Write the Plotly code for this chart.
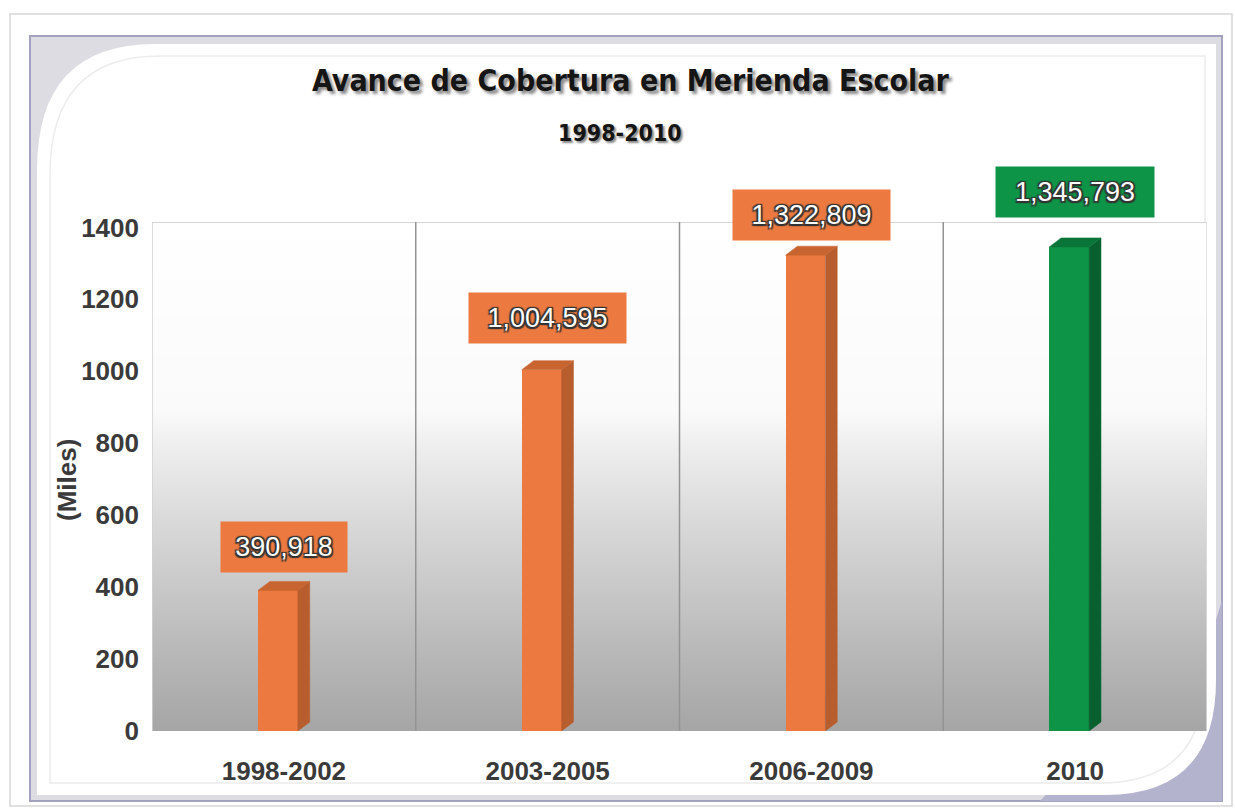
import numpy as np
import plotly.graph_objects as go

# ---- data -------------------------------------------------------------
periods = ["1998-2002", "2003-2005", "2006-2009", "2010"]
beneficiaries = [390918, 1004595, 1322809, 1345793]          # children served
values_k = [v / 1000 for v in beneficiaries]                   # plotted in thousands
y_ticks = [0, 200, 400, 600, 800, 1000, 1200, 1400]

# ---- styling ----------------------------------------------------------
front_colors = ["#ec7a40", "#ec7a40", "#ec7a40", "#0d9447"]
side_colors = ["#b85d2e", "#b85d2e", "#b85d2e", "#07602d"]
top_colors = ["#c8642f", "#c8642f", "#c8642f", "#0a7538"]
label_shift = [43, 52, 40, 55]       # px above the bar top
label_width = [126, 157, 157, 158]

W, H = 1235, 812
L, R, T, B = 152, 1207, 222, 731     # plot area in page pixels
Y_MAX = 1415

def xp(x):
    return (x - L) / (R - L)

def yp(y):
    return (B - y) / (B - T)

x_pos = np.arange(len(periods))
bar_w = 0.151          # front face width (category units)
front_off = -0.098     # left edge of the front face from the category centre
depth_x = 0.045        # 3-D depth, horizontal
depth_y = 25           # 3-D depth, vertical (axis units)

fig = go.Figure()

# Plot-area gradient (white on top fading to grey at the floor)
yy = np.linspace(0, Y_MAX, 120)
fig.add_trace(go.Heatmap(
    x=[-0.5, 3.5], y=yy, z=[[v] for v in yy],
    colorscale=[[0.0, "#a5a5a5"], [0.14, "#b6b6b6"], [0.28, "#c8c8c8"],
                [0.42, "#dadada"], [0.56, "#eeeeee"], [0.63, "#fafafa"],
                [1.0, "#ffffff"]],
    zmin=0, zmax=Y_MAX, showscale=False, hoverinfo="skip", zsmooth="best",
))

# front faces
fig.add_trace(go.Bar(
    x=x_pos, y=values_k, width=bar_w, offset=front_off,
    marker=dict(color=front_colors, line=dict(width=0)),
    hoverinfo="skip", showlegend=False,
))

# side and top faces of each 3-D column
for i, v in enumerate(values_k):
    c = x_pos[i]
    xr = c + front_off + bar_w
    xl = c + front_off
    fig.add_trace(go.Scatter(
        x=[xr, xr + depth_x, xr + depth_x, xr, xr],
        y=[0, depth_y, v + depth_y, v, 0],
        fill="toself", fillcolor=side_colors[i], mode="lines",
        line=dict(width=0.5, color=side_colors[i]),
        hoverinfo="skip", showlegend=False,
    ))
    fig.add_trace(go.Scatter(
        x=[xl, xr, xr + depth_x, xl + depth_x, xl],
        y=[v, v, v + depth_y, v + depth_y, v],
        fill="toself", fillcolor=top_colors[i], mode="lines",
        line=dict(width=0.5, color=top_colors[i]),
        hoverinfo="skip", showlegend=False,
    ))

shapes = []
# page frame
shapes.append(dict(type="rect", xref="paper", yref="paper",
                   x0=xp(10), x1=xp(1232), y0=yp(806), y1=yp(14),
                   line=dict(color="#d6d6d6", width=1.5), layer="below"))
shapes.append(dict(type="rect", xref="paper", yref="paper",
                   x0=xp(30), x1=xp(1222), y0=yp(801), y1=yp(36),
                   fillcolor="#dcdce2", line=dict(color="#a3a3bf", width=2),
                   layer="below"))
# textured lower-right corner
shapes.append(dict(type="path", xref="paper", yref="paper",
                   path=(f"M {xp(1222)},{yp(600)} L {xp(1222)},{yp(801)} "
                         f"L {xp(1040)},{yp(801)} L {xp(1216)},{yp(620)} Z"),
                   fillcolor="#b3b3cd", line=dict(width=0), layer="below"))
# white panel with rounded corners
shapes.append(dict(type="path", xref="paper", yref="paper",
                   path=(f"M {xp(37)},{yp(170)} Q {xp(37)},{yp(44)} {xp(155)},{yp(44)} "
                         f"L {xp(1216)},{yp(44)} L {xp(1216)},{yp(680)} "
                         f"Q {xp(1216)},{yp(795)} {xp(1105)},{yp(795)} "
                         f"L {xp(37)},{yp(795)} Z"),
                   fillcolor="#ffffff", line=dict(width=0), layer="below"))
# faint inner outline
shapes.append(dict(type="path", xref="paper", yref="paper",
                   path=(f"M {xp(50)},{yp(175)} Q {xp(50)},{yp(56)} {xp(160)},{yp(56)} "
                         f"L {xp(1205)},{yp(56)} L {xp(1205)},{yp(675)} "
                         f"Q {xp(1205)},{yp(783)} {xp(1100)},{yp(783)} "
                         f"L {xp(50)},{yp(783)} Z"),
                   fillcolor="rgba(0,0,0,0)", line=dict(color="#ececec", width=1.5),
                   layer="below"))
# plot-area border and category separators
shapes.append(dict(type="line", xref="x", yref="y", x0=-0.5, x1=3.5, y0=Y_MAX, y1=Y_MAX,
                   line=dict(color="#c8c8c8", width=1.5)))
shapes.append(dict(type="line", xref="x", yref="y", x0=-0.5, x1=-0.5, y0=0, y1=Y_MAX,
                   line=dict(color="#d2d2d2", width=1.5)))
shapes.append(dict(type="line", xref="x", yref="y", x0=3.5, x1=3.5, y0=0, y1=Y_MAX,
                   line=dict(color="#dcdcdc", width=1.5)))
for sep in [0.5, 1.5, 2.5]:
    shapes.append(dict(type="line", xref="x", yref="y", x0=sep, x1=sep, y0=0, y1=Y_MAX,
                       line=dict(color="#939393", width=1.5), layer="above"))

outline = ("0 0 2px #333, 1.5px 1.5px 1px #333, -1.5px -1.5px 1px #333, "
           "1.5px -1.5px 1px #333, -1.5px 1.5px 1px #333")

annotations = []
for i, v in enumerate(values_k):
    annotations.append(dict(
        x=x_pos[i], y=v, xref="x", yref="y", yshift=label_shift[i],
        xanchor="center", yanchor="middle",
        text=f"{beneficiaries[i]:,}", showarrow=False,
        width=label_width[i], height=50, bgcolor=front_colors[i], borderpad=0,
        font=dict(family="Liberation Sans, Arial", size=27, color="#ffffff",
                  shadow=outline),
    ))

annotations.append(dict(
    x=xp(630), y=yp(80), xref="paper", yref="paper", showarrow=False,
    xanchor="center", yanchor="middle",
    text="Avance de Cobertura en Merienda Escolar",
    font=dict(family="DejaVu Sans Condensed, Liberation Sans Narrow, Arial Narrow",
              size=30, color="#151515", weight="bold", shadow="3px 3px 3px #8a8a8a"),
))
annotations.append(dict(
    x=xp(620), y=yp(133), xref="paper", yref="paper", showarrow=False,
    xanchor="center", yanchor="middle",
    text="1998-2010",
    font=dict(family="DejaVu Sans Condensed, Liberation Sans Narrow, Arial Narrow",
              size=23, color="#151515", weight="bold", shadow="2px 2px 2px #8a8a8a"),
))
annotations.append(dict(
    x=xp(67), y=yp(480), xref="paper", yref="paper", showarrow=False,
    xanchor="center", yanchor="middle",
    text="(Miles)", textangle=-90,
    font=dict(family="Liberation Sans, Arial", size=26, color="#3a3a3a", weight="bold"),
))

fig.update_layout(
    width=W, height=H,
    margin=dict(l=L, r=W - R, t=T, b=H - B, pad=0),
    paper_bgcolor="#ffffff", plot_bgcolor="rgba(0,0,0,0)",
    template="none", showlegend=False, bargap=0,
    shapes=shapes, annotations=annotations,
    xaxis=dict(range=[-0.5, 3.5], tickvals=list(x_pos), ticktext=periods,
               showgrid=False, zeroline=False, showline=False, ticks="",
               ticklabelstandoff=22,
               tickfont=dict(family="Liberation Sans, Arial", size=26,
                             color="#3a3a3a", weight="bold")),
    yaxis=dict(range=[0, Y_MAX], tickvals=y_ticks, showgrid=False, zeroline=False,
               showline=False, ticks="", ticklabelstandoff=12,
               tickfont=dict(family="Liberation Sans, Arial", size=26,
                             color="#3a3a3a", weight="bold")),
)

fig.write_html("out.html")
